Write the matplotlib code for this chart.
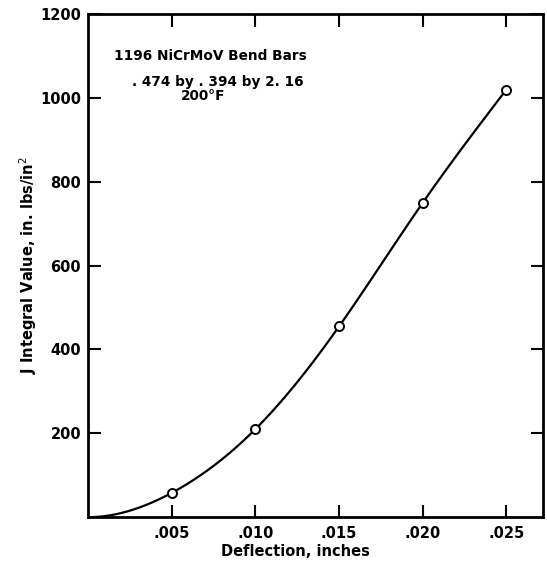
import numpy as np
import matplotlib
matplotlib.use("Agg")
import matplotlib.pyplot as plt

# Data
deflection = [0.005, 0.010, 0.015, 0.020, 0.025]
j_value = [58, 210, 455, 750, 1020]
x_ticks = [0.005, 0.010, 0.015, 0.020, 0.025]
x_tick_labels = [".005", ".010", ".015", ".020", ".025"]
y_ticks = [200, 400, 600, 800, 1000, 1200]
y_tick_labels = ["200", "400", "600", "800", "1000", "1200"]
title_lines = ["1196 NiCrMoV Bend Bars", ". 474 by . 394 by 2. 16", "200°F"]

plt.rcParams['font.family'] = ['DejaVu Sans']


def clamped_spline(xk, yk, d0, xs):
    xk = np.asarray(xk, float); yk = np.asarray(yk, float)
    n = len(xk)
    h = np.diff(xk)
    A = np.zeros((n, n)); b = np.zeros(n)
    A[0, 0] = 2 * h[0]; A[0, 1] = h[0]
    b[0] = 6 * ((yk[1] - yk[0]) / h[0] - d0)
    for i in range(1, n - 1):
        A[i, i - 1] = h[i - 1]; A[i, i] = 2 * (h[i - 1] + h[i]); A[i, i + 1] = h[i]
        b[i] = 6 * ((yk[i + 1] - yk[i]) / h[i] - (yk[i] - yk[i - 1]) / h[i - 1])
    A[n - 1, n - 1] = 1.0
    M = np.linalg.solve(A, b)
    ys = np.empty_like(xs)
    for j, x in enumerate(xs):
        i = min(max(np.searchsorted(xk, x) - 1, 0), n - 2)
        t1 = xk[i + 1] - x; t0 = x - xk[i]
        ys[j] = (M[i] * t1**3 + M[i + 1] * t0**3) / (6 * h[i]) \
            + (yk[i] / h[i] - M[i] * h[i] / 6) * t1 \
            + (yk[i + 1] / h[i] - M[i + 1] * h[i] / 6) * t0
    return ys


fig = plt.figure(figsize=(5.47, 5.64), dpi=100)
ax = fig.add_axes([0.161, 0.083, 0.832, 0.892])

xk = [0.0] + deflection
yk = [0.0] + j_value
xs = np.linspace(0, deflection[-1], 300)
ys = clamped_spline(xk, yk, 0.0, xs)
ax.plot(xs, ys, color='black', lw=1.6, zorder=2)
ax.plot(deflection, j_value, 'o', ms=6.5, mfc='white', mec='black', mew=1.4, zorder=3)

ax.set_xlim(0, 0.0272)
ax.set_ylim(0, 1200)
ax.set_xticks(x_ticks)
ax.set_xticklabels(x_tick_labels)
ax.set_yticks(y_ticks)
ax.set_yticklabels(y_tick_labels)
ax.tick_params(direction='in', length=9, width=1.5, labelsize=10.5, pad=5,
               top=True, right=True)
ax.tick_params(axis='x', pad=6)
for lab in ax.get_xticklabels() + ax.get_yticklabels():
    lab.set_fontweight('bold')
for s in ax.spines.values():
    s.set_linewidth(2.0)

ax.set_xlabel("Deflection, inches", fontsize=10.5, fontweight='bold')
ax.xaxis.set_label_coords(0.455, -0.054)
ax.set_ylabel("J Integral Value, in. lbs/in$^2$", fontsize=10.5, fontweight='bold')
ax.yaxis.set_label_coords(-0.108, 0.5)

ax.text(0.268, 0.9165, title_lines[0], transform=ax.transAxes, ha='center', va='center',
        fontsize=9.8, fontweight='bold')
ax.text(0.286, 0.865, title_lines[1], transform=ax.transAxes, ha='center', va='center',
        fontsize=9.8, fontweight='bold')
ax.text(0.253, 0.837, title_lines[2], transform=ax.transAxes, ha='center', va='center',
        fontsize=9.8, fontweight='bold')

fig.savefig("out.png", dpi=100)
